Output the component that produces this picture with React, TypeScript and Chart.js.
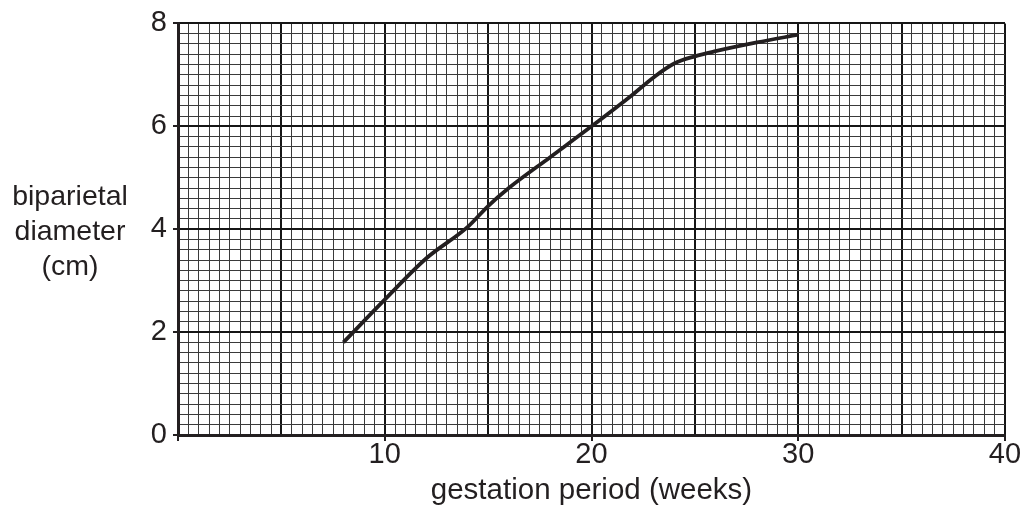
import React, { useEffect, useRef } from "react";
import { Chart, registerables } from "chart.js";

Chart.register(...registerables);

const weeks = [8, 10, 12, 14, 15, 16, 18, 20, 22, 23, 24, 25, 26, 28, 30];
const diameterCm = [1.8, 2.63, 3.43, 4.04, 4.45, 4.8, 5.4, 6.0, 6.62, 6.95, 7.22, 7.36, 7.46, 7.63, 7.78];
const xLabelValues = [10, 20, 30, 40];
const yLabelValues = [0, 2, 4, 6, 8];
const yTitleLines = ["biparietal", "diameter", "(cm)"];
const xTitle = "gestation period (weeks)";

const FONT = "'Liberation Sans', Arial, sans-serif";
const INK = "#231f20";

const near = (v: number, list: number[]) => list.some((t) => Math.abs(t - v) < 1e-6);
const isMult = (v: number, m: number) => Math.abs(v / m - Math.round(v / m)) < 1e-6;

const yTitlePlugin = {
  id: "yTitle",
  afterDraw(chart: any) {
    const ctx = chart.ctx;
    ctx.save();
    ctx.font = `28.5px ${FONT}`;
    ctx.fillStyle = INK;
    ctx.textAlign = "center";
    ctx.textBaseline = "alphabetic";
    const baseY = 205;
    yTitleLines.forEach((line, i) => ctx.fillText(line, 70, baseY + i * 35));
    ctx.restore();
  },
};

export default function App() {
  const ref = useRef<HTMLCanvasElement>(null);

  useEffect(() => {
    if (!ref.current) return;
    const chart = new Chart(ref.current, {
      type: "line",
      data: {
        datasets: [
          {
            data: weeks.map((w, i) => ({ x: w, y: diameterCm[i] })),
            borderColor: INK,
            borderWidth: 3.8,
            pointRadius: 0,
            fill: false,
            cubicInterpolationMode: "monotone",
          },
        ],
      },
      options: {
        animation: false,
        responsive: false,
        devicePixelRatio: 1,
        layout: { padding: { top: 22, right: 19, left: 0, bottom: 0 } },
        plugins: { legend: { display: false }, tooltip: { enabled: false } },
        scales: {
          x: {
            type: "linear",
            min: 0,
            max: 40,
            afterFit: (s: any) => {
              s.height = 70;
            },
            ticks: {
              stepSize: 0.5,
              autoSkip: false,
              maxTicksLimit: 500,
              maxRotation: 0,
              minRotation: 0,
              padding: -3,
              color: INK,
              font: { family: FONT, size: 29 },
              callback: (v: any) => (near(Number(v), xLabelValues) ? String(v) : ""),
            },
            grid: {
              drawTicks: true,
              tickLength: 6,
              tickWidth: 2,
              tickColor: (c: any) => (c.tick && (near(c.tick.value, xLabelValues) || c.tick.value === 0) ? INK : "rgba(0,0,0,0)"),
              color: (c: any) => (c.tick && isMult(c.tick.value, 5) ? "#151515" : "#3a3a3a"),
              lineWidth: (c: any) => (c.tick && isMult(c.tick.value, 5) ? 2 : 1),
            },
            border: { display: true, color: INK, width: 3 },
            title: {
              display: true,
              text: xTitle,
              color: INK,
              font: { family: FONT, size: 29.5 },
              padding: { top: 0, bottom: -4 },
            },
          },
          y: {
            type: "linear",
            min: 0,
            max: 8,
            afterFit: (s: any) => {
              s.width = 178;
            },
            ticks: {
              stepSize: 0.2,
              autoSkip: false,
              maxTicksLimit: 500,
              padding: 6,
              color: INK,
              font: { family: FONT, size: 29 },
              callback: (v: any) => (near(Number(v), yLabelValues) ? String(Math.round(Number(v))) : ""),
            },
            grid: {
              drawTicks: true,
              tickLength: 5,
              tickWidth: 2,
              tickColor: (c: any) => (c.tick && near(c.tick.value, yLabelValues) ? INK : "rgba(0,0,0,0)"),
              color: (c: any) => (c.tick && isMult(c.tick.value, 2) ? "#151515" : "#3a3a3a"),
              lineWidth: (c: any) => (c.tick && isMult(c.tick.value, 2) ? 2 : 1),
            },
            border: { display: true, color: INK, width: 3 },
          },
        },
      },
      plugins: [yTitlePlugin],
    } as any);
    return () => chart.destroy();
  }, []);

  return (
    <div style={{ position: "absolute", left: 0, top: 0, width: 1024, height: 505, background: "#fff" }}>
      <canvas ref={ref} width={1024} height={505} />
    </div>
  );
}
